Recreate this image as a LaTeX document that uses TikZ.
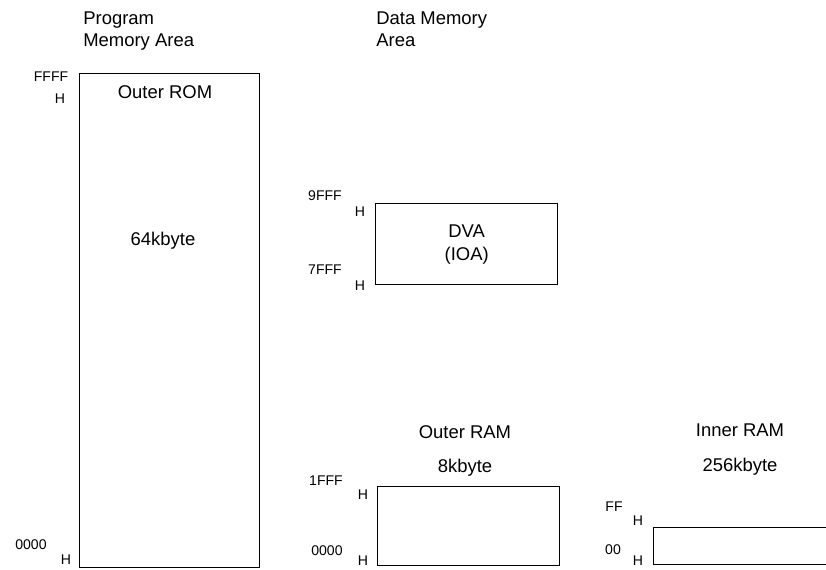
\documentclass[tikz,border=0pt]{standalone}
\usepackage{fontspec}
\setmainfont{Liberation Sans}
\usetikzlibrary{positioning}

\begin{document}
\begin{tikzpicture}[x=0.02cm, y=-0.02cm,
    area/.style={draw, line width=0.8pt, inner sep=0pt, anchor=north west},
    heading/.style={align=left, anchor=north west, inner sep=0pt, font=\fontsize{10.5}{13}\selectfont},
    boxlabel/.style={inner sep=0pt, font=\fontsize{10.5}{13}\selectfont},
    addr/.style={inner sep=0pt, font=\fontsize{8}{10}\selectfont}]
    \useasboundingbox (0,0) rectangle (826,569);

    % headings
    \node (progarea) [heading] at (83,11) {Program\\Memory Area};
    \node (dataarea) [heading] at (376,11) {Data Memory\\Area};

    % program memory
    \node (rom) [area, minimum width=3.6cm, minimum height=9.88cm] at (79,73) {};
    \node (romname) [boxlabel] at (165,92) {Outer ROM};
    \node (romsize) [boxlabel] at (163,241) {64kbyte};
    \node (romtop) [addr] at (51,77) {FFFF};
    \node (romtoph) [addr] at (60,99) {H};
    \node (rombot) [addr] at (31,545) {0000};
    \node (romboth) [addr] at (66,560) {H};

    % DVA
    \node (dva) [area, minimum width=3.64cm, minimum height=1.62cm] at (375,203) {};
    \node (dvaname) [boxlabel, align=center] at (dva.center) {DVA\\(IOA)};
    \node (dvatop) [addr] at (325,196) {9FFF};
    \node (dvatoph) [addr] at (360,212) {H};
    \node (dvabot) [addr] at (325,270) {7FFF};
    \node (dvaboth) [addr] at (360,286) {H};

    % outer RAM
    \node (oram) [area, minimum width=3.64cm, minimum height=1.58cm] at (377,486) {};
    \node (oramname) [boxlabel] at (465,432) {Outer RAM};
    \node (oramsize) [boxlabel] at (465,468) {8kbyte};
    \node (oramtop) [addr] at (326,481) {1FFF};
    \node (oramtoph) [addr] at (363,495) {H};
    \node (orambot) [addr] at (327,551) {0000};
    \node (oramboth) [addr] at (363,561) {H};

    % inner RAM
    \node (iram) [area, minimum width=4cm, minimum height=0.74cm] at (653,527) {};
    \node (iramname) [boxlabel] at (740,430) {Inner RAM};
    \node (iramsize) [boxlabel] at (740,467) {256kbyte};
    \node (iramtop) [addr] at (614,507) {FF};
    \node (iramtoph) [addr] at (638,521) {H};
    \node (irambot) [addr] at (613,550) {00};
    \node (iramboth) [addr] at (638,561) {H};
\end{tikzpicture}
\end{document}
